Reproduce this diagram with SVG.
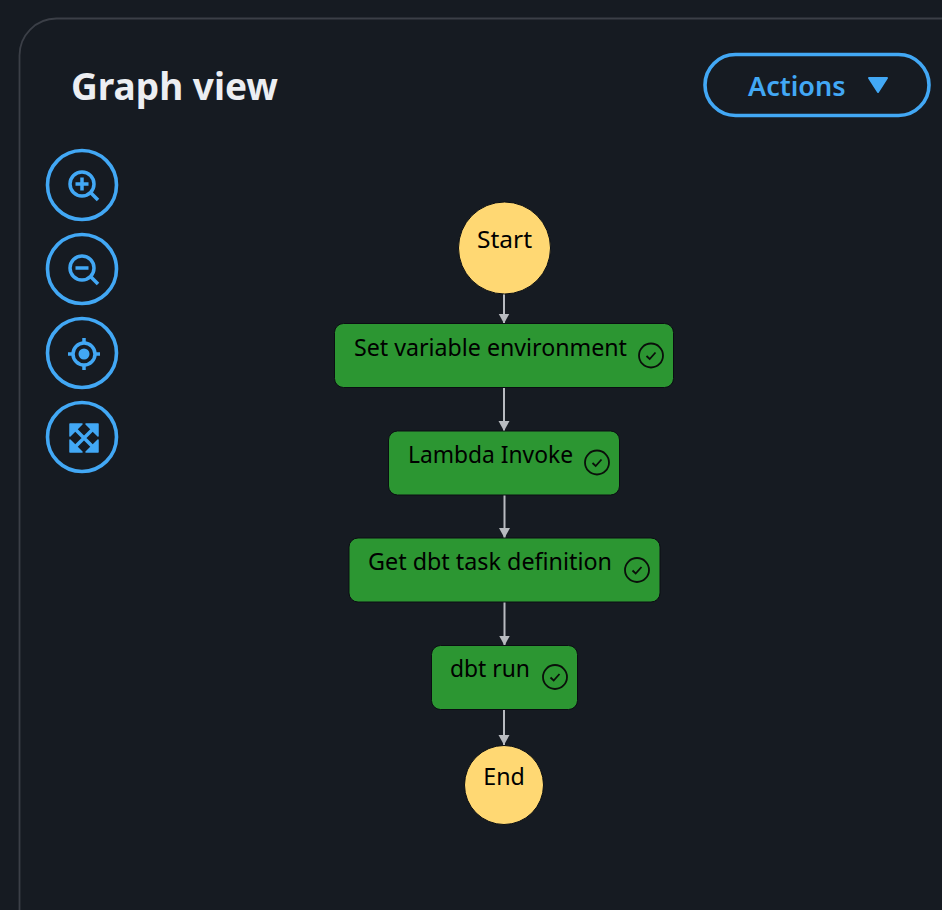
<svg xmlns="http://www.w3.org/2000/svg" width="942" height="910" viewBox="0 0 942 910">
<style>
.lbl{font-family:"Noto Sans","Open Sans",sans-serif;font-size:23.200px;fill:#000}
.state{fill:#2c9632;stroke:#0a0e12;stroke-width:1}
.term{fill:#ffd873;stroke:#0a0e12;stroke-width:1}
.ring{fill:none;stroke:#42a8f5;stroke-width:3.600}
.ico{fill:none;stroke:#42a8f5;stroke-width:3.500}
.icf{fill:#42a8f5}
.chk{fill:none;stroke:#0a0f0a;stroke-width:1.800}
.edge{stroke:#b8bbc0;stroke-width:2;fill:none;marker-end:url(#arr)}
</style>
<defs>
<marker id="arr" markerUnits="userSpaceOnUse" markerWidth="11" markerHeight="12" refX="10" refY="6" orient="auto"><path d="M0 0.500L10 6L0 11.500Z" fill="#b8bbc0"/></marker>
<g id="check"><circle r="12" class="chk"/><path d="M-4.500 0.500L-1.300 3.500L4.500 -3" class="chk"/></g>
</defs>
<rect width="942" height="910" fill="#161b22"/>
<path d="M19.500 910V56A37 37 0 0 1 56.500 18.500H942" fill="none" stroke="#3b3f47" stroke-width="1.800"/>
<text id="title" x="71" y="100" font-family="Noto Sans,Open Sans,sans-serif" font-size="37" font-weight="700" fill="#eceef2">Graph view</text>
<g id="actions">
<rect x="705" y="54.500" width="224" height="61" rx="30.500" class="ring"/>
<text x="748" y="96" font-family="Noto Sans,Open Sans,sans-serif" font-size="27" font-weight="600" fill="#42a8f5">Actions</text>
<path d="M869 78H887L878 92Z" class="icf" stroke="#42a8f5" stroke-width="2" stroke-linejoin="round"/>
</g>
<g id="zoom-in"><circle cx="82" cy="185" r="34.500" class="ring"/><circle cx="82" cy="184" r="12" class="ico"/><path d="M91 193L98 200" class="ico"/><path d="M75.500 184H88.500M82 177.500V190.500" class="ico" stroke-width="4"/></g>
<g id="zoom-out"><circle cx="82" cy="269" r="34.500" class="ring"/><circle cx="82" cy="268" r="12" class="ico"/><path d="M91 277L98 284" class="ico"/><path d="M75.500 268H88.500" class="ico" stroke-width="4"/></g>
<g id="center"><circle cx="82" cy="353" r="34.500" class="ring"/><circle cx="84" cy="354" r="11" class="ico" stroke-width="2"/><circle cx="84" cy="354" r="5.500" class="icf"/><path d="M84 338V344M84 364V370M68 354H74M94 354H100" class="ico" stroke-width="2"/></g>
<g id="fit"><circle cx="82" cy="437" r="34.500" class="ring"/><path d="M70 424H82L70 436ZM98 424V436L86 424ZM70 452V440L82 452ZM98 452H86L98 440Z" class="icf" stroke="#42a8f5" stroke-width="1.500" stroke-linejoin="round"/><path d="M73 427L95 449M95 427L73 449" class="ico" stroke-width="5"/></g>
<g id="connectors">
<path d="M504 294V323.500" class="edge"/>
<path d="M504 387V431" class="edge"/>
<path d="M504.500 494V538" class="edge"/>
<path d="M504.500 601V645.500" class="edge"/>
<path d="M504 709V745" class="edge"/>
</g>
<g id="start"><circle cx="504.500" cy="248" r="46" class="term"/><text x="504.500" y="248" text-anchor="middle" class="lbl" textLength="55" lengthAdjust="spacingAndGlyphs">Start</text></g>
<g id="set-variable-environment"><rect x="334.500" y="323.500" width="339" height="64" rx="9" class="state"/><text x="354" y="356" class="lbl" textLength="273" lengthAdjust="spacingAndGlyphs">Set variable environment</text><use href="#check" x="651" y="355.500"/></g>
<g id="lambda-invoke"><rect x="388.500" y="431" width="231" height="64" rx="9" class="state"/><text x="408" y="463" class="lbl" textLength="165" lengthAdjust="spacingAndGlyphs">Lambda Invoke</text><use href="#check" x="597" y="462.500"/></g>
<g id="get-dbt-task-definition"><rect x="349" y="538" width="311" height="64" rx="9" class="state"/><text x="368" y="570" class="lbl" textLength="244" lengthAdjust="spacingAndGlyphs">Get dbt task definition</text><use href="#check" x="637" y="570"/></g>
<g id="dbt-run"><rect x="431.500" y="645.500" width="146" height="64" rx="9" class="state"/><text x="450" y="677" class="lbl" textLength="80" lengthAdjust="spacingAndGlyphs">dbt run</text><use href="#check" x="555" y="677"/></g>
<g id="end"><circle cx="504" cy="785" r="39.500" class="term"/><text x="504" y="785" text-anchor="middle" class="lbl">End</text></g>
</svg>
